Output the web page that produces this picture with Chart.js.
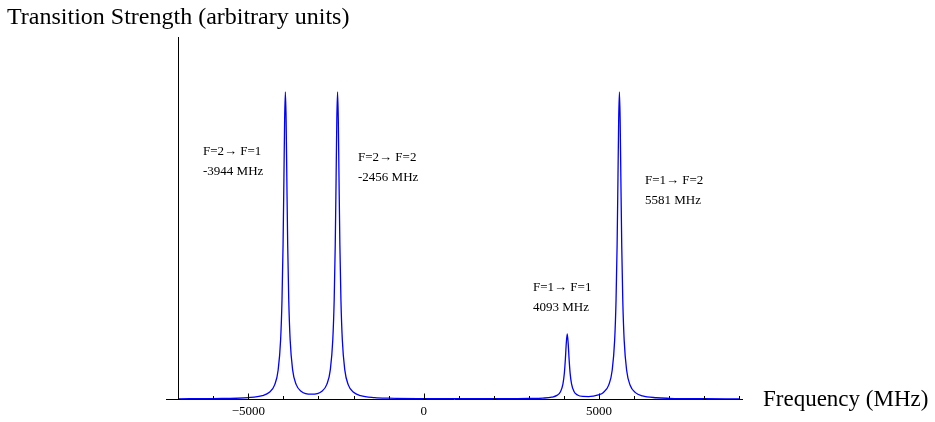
<!DOCTYPE html>
<html>
<head>
<meta charset="utf-8">
<script src="https://cdn.jsdelivr.net/npm/chart.js@4/dist/chart.umd.min.js"></script>
<style>
  body { margin: 0; background: #fff; }
  #wrap { position: relative; width: 935px; height: 422px; }
</style>
</head>
<body>
<div id="wrap"><canvas id="spectrum" width="935" height="422"></canvas></div>
<script>
// frequency samples (MHz) and line strength
let freq = [-7000,-6000,-5000,-4600,-4400,-4250,-4150,-4080,-4040,-4010,
    -3985,-3965,-3944,-3923,-3903,-3878,-3848,-3808,-3738,-3638,
    -3488,-3200,-2912,-2762,-2662,-2592,-2552,-2522,-2497,-2477,
    -2456,-2435,-2415,-2390,-2360,-2320,-2250,-2150,-2000,-1800,
    -1400,-1000,0,1000,2000,2600,3000,3400,3650,3800,
    3900,3970,4010,4040,4065,4093,4121,4146,4176,4216,
    4286,4386,4536,4700,4837,4981,5125,5275,5375,5445,
    5485,5515,5540,5560,5581,5602,5622,5647,5677,5717,
    5787,5887,6037,6237,6637,7000,8000,9000];

let strength = [0.0007,0.0014,0.0046,0.011,0.0217,0.0459,0.0946,0.192,0.323,0.502,
    0.723,0.910,1.0,0.910,0.724,0.502,0.323,0.193,0.0957,0.0476,
    0.0246,0.0156,0.0246,0.0476,0.0957,0.193,0.323,0.502,0.724,0.910,
    1.0,0.910,0.723,0.502,0.323,0.192,0.0947,0.046,0.0218,0.0111,
    0.0047,0.0027,0.0012,0.00085,0.00089,0.0012,0.0017,0.0030,0.0059,0.0117,
    0.0235,0.0487,0.0831,0.1295,0.180,0.212,0.180,0.1298,0.0836,0.0493,
    0.0246,0.0132,0.0085,0.0080,0.0094,0.0131,0.0214,0.0452,0.0936,0.191,
    0.3215,0.500,0.722,0.909,1.0,0.909,0.722,0.500,0.321,0.191,
    0.0935,0.0448,0.0208,0.0102,0.0041,0.0023,0.0008,0.0004];

let tickValues = [-6000,-5000,-4000,-3000,-2000,-1000,0,1000,2000,3000,4000,5000,6000,7000,8000,9000];
let tickLabels = [-5000,0,5000];

let peakNames = ['F=2\u2192 F=1','F=2\u2192 F=2','F=1\u2192 F=1','F=1\u2192 F=2'];
let peakFreqs = ['-3944 MHz','-2456 MHz','4093 MHz','5581 MHz'];

// where the peak labels sit, in data units (x MHz, y strength)
let labelSpots = [
    {x: -6293, y: 0.8045},
    {x: -1873, y: 0.785},
    {x: 3117, y: 0.3615},
    {x: 6310, y: 0.710}
];

let yAxisAt = -7000;
let serif = '"Liberation Serif", "Times New Roman", serif';

let axesPlugin = {
    id: 'mathAxes',
    afterDatasetsDraw: function(chart) {
        let ctx = chart.ctx;
        let xs = chart.scales.x;
        let ys = chart.scales.y;
        let area = chart.chartArea;
        let y0 = Math.round(ys.getPixelForValue(0)) + 0.5;
        let xAxis = Math.round(xs.getPixelForValue(yAxisAt)) + 0.5;

        ctx.save();
        ctx.strokeStyle = '#000';
        ctx.lineWidth = 1;

        // axes
        ctx.beginPath();
        ctx.moveTo(area.left, y0);
        ctx.lineTo(area.right, y0);
        ctx.moveTo(xAxis, area.top);
        ctx.lineTo(xAxis, y0);
        ctx.stroke();

        // ticks point up into the plot
        ctx.beginPath();
        for (let i = 0; i < tickValues.length; i++) {
            let px = Math.round(xs.getPixelForValue(tickValues[i])) + 0.5;
            let len = tickLabels.indexOf(tickValues[i]) >= 0 ? 6 : 3.5;
            ctx.moveTo(px, y0);
            ctx.lineTo(px, y0 - len);
        }
        ctx.stroke();

        ctx.fillStyle = '#000';
        ctx.font = '13px ' + serif;
        ctx.textAlign = 'center';
        ctx.textBaseline = 'middle';
        for (let i = 0; i < tickLabels.length; i++) {
            let v = tickLabels[i];
            let txt = v < 0 ? '\u2212' + Math.abs(v) : String(v);
            ctx.fillText(txt, xs.getPixelForValue(v), y0 + 12.5);
        }

        // peak annotations
        ctx.textAlign = 'left';
        for (let i = 0; i < labelSpots.length; i++) {
            let lx = xs.getPixelForValue(labelSpots[i].x);
            let ly = ys.getPixelForValue(labelSpots[i].y);
            ctx.fillText(peakNames[i], lx, ly);
            ctx.fillText(peakFreqs[i], lx, ly + 19.5);
        }

        // axis titles
        ctx.font = '24px ' + serif;
        ctx.fillText('Transition Strength (arbitrary units)', 7, 18);
        ctx.font = '23px ' + serif;
        ctx.fillText('Frequency (MHz)', area.right + 20, y0);
        ctx.restore();
    }
};

let points = freq.map(function(f, i) {
    return {x: f, y: strength[i]};
});

new Chart(document.getElementById('spectrum'), {
    type: 'line',
    data: {
        datasets: [{
            data: points,
            borderColor: '#0000ff',
            borderWidth: 1.3,
            pointRadius: 0,
            fill: false,
            cubicInterpolationMode: 'monotone'
        }]
    },
    options: {
        responsive: false,
        animation: false,
        devicePixelRatio: 1,
        layout: {
            padding: {left: 166, right: 192, top: 37, bottom: 23}
        },
        plugins: {
            legend: {display: false},
            tooltip: {enabled: false}
        },
        scales: {
            x: {type: 'linear', min: -7348, max: 9105, display: false},
            y: {min: 0, max: 1.179, display: false}
        }
    },
    plugins: [axesPlugin]
});
</script>
</body>
</html>
